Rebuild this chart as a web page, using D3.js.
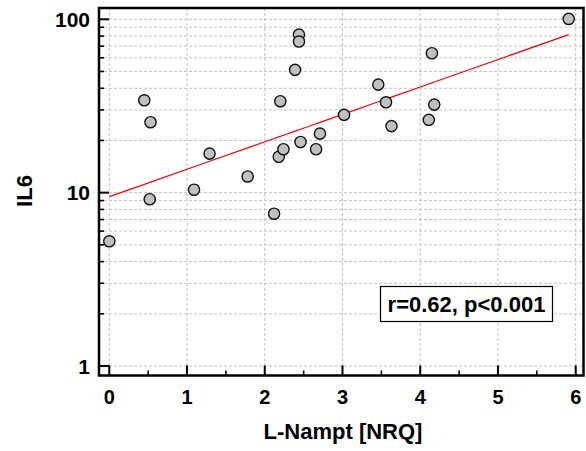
<!DOCTYPE html>
<html><head><meta charset="utf-8">
<script src="https://cdn.jsdelivr.net/npm/d3@7"></script>
<style>html,body{margin:0;padding:0;background:#fff;}svg{display:block;font-family:"Liberation Sans",Arial,sans-serif;font-weight:bold;}</style>
</head><body>
<svg id="c" width="586" height="451"></svg>
<script>
// Data
const nampt = [0.00, 0.45, 0.53, 0.52, 1.09, 1.29, 1.78, 2.12, 2.18, 2.24, 2.20, 2.39, 2.44, 2.44, 2.46, 2.66, 2.71, 3.02, 3.46, 3.56, 3.63, 4.11, 4.18, 4.15, 5.91];
const il6   = [5.24, 34.1, 25.5, 9.16, 10.4, 16.8, 12.4, 7.56, 16.1, 17.8, 33.7, 51.1, 81.6, 74.4, 19.6, 17.8, 21.9, 28.1, 42.0, 33.2, 24.2, 26.3, 32.2, 63.7, 100.5];
const xTicks = [0, 1, 2, 3, 4, 5, 6];
const yTicks = [1, 10, 100];
const regIntercept = 9.48;   // IL6 at L-Nampt = 0
const regSlopeLog = 0.1582;  // log10(IL6) per unit L-Nampt
const statText = "r=0.62, p<0.001";
const xTitle = "L-Nampt [NRQ]";
const yTitle = "IL6";

const svg = d3.select("#c");
const frame = {l: 99, r: 583.5, t: 8, b: 375.5};
const x = d3.scaleLinear().domain([0, 6]).range([109.3, 575.7]);
const y = d3.scaleLog().domain([1, 100]).range([366, 19.3]);

// minor values
const xMinor = d3.range(0, 6.01, 0.5).filter(v => Math.abs(v - Math.round(v)) > 1e-6);
const yGrid = [];
[1, 10].forEach(d => { for (let k = 1; k <= 9; k++) yGrid.push(d * k); });
yGrid.push(100);
const yMinor = yGrid.filter(v => !yTicks.includes(v));

const g = svg.append("g");
// gridlines
g.selectAll("line.vg").data(xTicks).join("line")
  .attr("x1", d => x(d)).attr("x2", d => x(d))
  .attr("y1", frame.t).attr("y2", frame.b)
  .attr("stroke", "#c4c4c4").attr("stroke-width", 1).attr("stroke-dasharray", "3,2");
g.selectAll("line.hg").data(yGrid).join("line")
  .attr("x1", frame.l).attr("x2", frame.r)
  .attr("y1", d => y(d)).attr("y2", d => y(d))
  .attr("stroke", "#c4c4c4").attr("stroke-width", 1).attr("stroke-dasharray", "3,2");

// regression line
const lineXs = Array.from(new Set(nampt)).sort((a, b) => a - b);
const line = d3.line().x(d => x(d)).y(d => y(regIntercept * Math.pow(10, regSlopeLog * d)));
svg.append("path").datum(lineXs).attr("d", line)
  .attr("fill", "none").attr("stroke", "#ff0000").attr("stroke-width", 1.2);

// points
svg.selectAll("circle").data(nampt.map((v, i) => [v, il6[i]])).join("circle")
  .attr("cx", d => x(d[0])).attr("cy", d => y(d[1])).attr("r", 5.6)
  .attr("fill", "#c0c0c0").attr("stroke", "#111").attr("stroke-width", 1.4);

// frame
svg.append("rect").attr("x", frame.l).attr("y", frame.t)
  .attr("width", frame.r - frame.l).attr("height", frame.b - frame.t)
  .attr("fill", "none").attr("stroke", "#000").attr("stroke-width", 2.5);

// ticks (inward)
svg.selectAll("line.xt").data(xTicks).join("line")
  .attr("x1", d => x(d)).attr("x2", d => x(d))
  .attr("y1", frame.b).attr("y2", frame.b - 10)
  .attr("stroke", "#000").attr("stroke-width", 2);
svg.selectAll("line.xm").data(xMinor).join("line")
  .attr("x1", d => x(d)).attr("x2", d => x(d))
  .attr("y1", frame.b).attr("y2", frame.b - 5)
  .attr("stroke", "#000").attr("stroke-width", 1.6);
svg.selectAll("line.yt").data(yTicks).join("line")
  .attr("x1", frame.l).attr("x2", frame.l + 10)
  .attr("y1", d => y(d)).attr("y2", d => y(d))
  .attr("stroke", "#000").attr("stroke-width", 2);
svg.selectAll("line.ym").data(yMinor).join("line")
  .attr("x1", frame.l).attr("x2", frame.l + 5)
  .attr("y1", d => y(d)).attr("y2", d => y(d))
  .attr("stroke", "#000").attr("stroke-width", 1.6);

// tick labels
svg.selectAll("text.xl").data(xTicks).join("text")
  .attr("x", d => x(d)).attr("y", 404)
  .attr("text-anchor", "middle").attr("font-size", 20).text(d => d);
svg.selectAll("text.yl").data(yTicks).join("text")
  .attr("x", 90).attr("y", d => y(d) + 7.5)
  .attr("text-anchor", "end").attr("font-size", 21).text(d => d);

// axis titles
svg.append("text").attr("x", 343).attr("y", 438.5).attr("text-anchor", "middle")
  .attr("font-size", 22).text(xTitle);
svg.append("text").attr("transform", "translate(32,191) rotate(-90)")
  .attr("text-anchor", "middle").attr("font-size", 22).text(yTitle);

// stat box
const bx = svg.append("g");
bx.append("rect").attr("x", 380.5).attr("y", 286.5).attr("width", 172).attr("height", 35)
  .attr("fill", "#fff").attr("stroke", "#000").attr("stroke-width", 1.2);
bx.append("text").attr("x", 466.5).attr("y", 311.5).attr("text-anchor", "middle")
  .attr("font-size", 22).text(statText);
</script>
</body></html>
